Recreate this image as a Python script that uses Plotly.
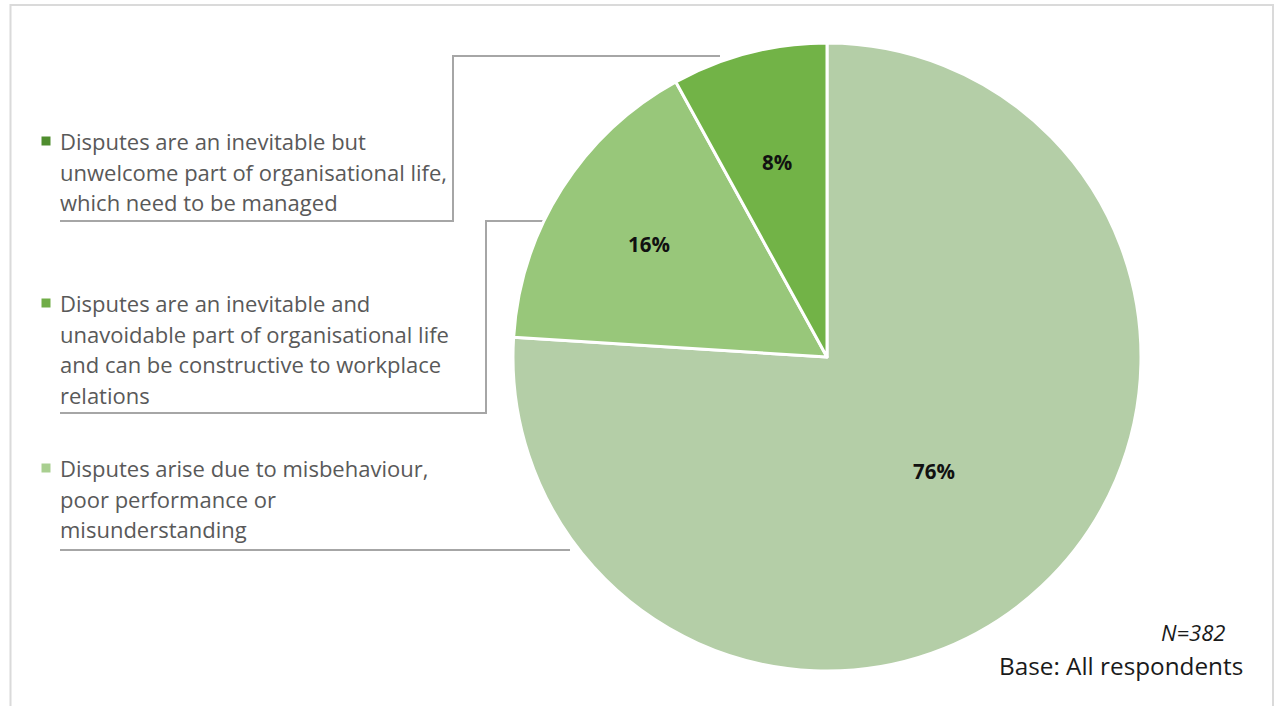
import math
import plotly.graph_objects as go

# Survey responses: views on workplace disputes (share of respondents, %)
categories = [
    "Disputes arise due to misbehaviour, poor performance or misunderstanding",
    "Disputes are an inevitable and unavoidable part of organisational life and can be constructive to workplace relations",
    "Disputes are an inevitable but unwelcome part of organisational life, which need to be managed",
]
values = [76, 16, 8]

# Wrapped legend text, listed top to bottom (reverse of slice order)
legend_lines = [
    ["Disputes are an inevitable but", "unwelcome part of organisational life,", "which need to be managed"],
    ["Disputes are an inevitable and", "unavoidable part of organisational life", "and can be constructive to workplace", "relations"],
    ["Disputes arise due to misbehaviour,", "poor performance or", "misunderstanding"],
]
sample_note = "N=382"
base_note = "Base: All respondents"

slice_colors = ["#b4cea7", "#98c77a", "#72b347"]
legend_colors = ["#4f8d2e", "#70ad47", "#a9cf90"]

FONT = "'Open Sans', 'Noto Sans', sans-serif"
W, H = 1275, 706
CX, CY, R = 827, 357, 314

fig = go.Figure()

# Pie, first slice starting at 12 o'clock, clockwise
fig.add_trace(go.Pie(
    labels=categories,
    values=values,
    sort=False,
    direction="clockwise",
    rotation=0,
    marker=dict(colors=slice_colors, line=dict(color="white", width=3)),
    textinfo="none",
    hoverinfo="label+percent",
    showlegend=False,
    domain=dict(x=[(CX - R) / W, (CX + R) / W], y=[1 - (CY + R) / H, 1 - (CY - R) / H]),
))

# Percentage labels placed along each slice's mid-angle
label_radius = [0.50, 0.67, 0.64]
total = sum(values)
cum = 0
annotations = []
for v, rf in zip(values, label_radius):
    mid = (cum + v / 2) / total * 2 * math.pi
    cum += v
    lx = CX + rf * R * math.sin(mid)
    ly = CY - rf * R * math.cos(mid)
    annotations.append(dict(
        x=lx, y=ly, xref="x", yref="y", text=f"<b>{v}%</b>", showarrow=False,
        font=dict(family=FONT, size=20.5, color="#111111"),
        xanchor="center", yanchor="middle",
    ))

# Legend entries with leader lines running to the pie
legend_top = [141, 303, 468]
line_step = 30.6
text_x = 58
for lines, y0, col in zip(legend_lines, legend_top, legend_colors):
    fig.add_trace(go.Scatter(
        x=[46], y=[y0], mode="markers",
        marker=dict(symbol="square", size=9, color=col, line=dict(width=0)),
        hoverinfo="skip", showlegend=False,
    ))
    for i, ln in enumerate(lines):
        annotations.append(dict(
            x=text_x, y=y0 + i * line_step, xref="x", yref="y", text=ln, showarrow=False,
            font=dict(family=FONT, size=22, color="#595959"),
            xanchor="left", yanchor="middle",
        ))

leaders = [
    ([60, 453, 453, 720], [221, 221, 56, 56]),
    ([60, 486, 486, 544], [413, 413, 221, 221]),
    ([60, 570], [550, 550]),
]
for lx, ly in leaders:
    fig.add_trace(go.Scatter(
        x=lx, y=ly, mode="lines", line=dict(color="#a6a6a6", width=2),
        hoverinfo="skip", showlegend=False,
    ))

annotations.append(dict(
    x=1227, y=632, xref="x", yref="y", text=f"<i>{sample_note}</i>", showarrow=False,
    font=dict(family=FONT, size=22, color="#1a1a1a"),
    xanchor="right", yanchor="middle",
))
annotations.append(dict(
    x=1245, y=665, xref="x", yref="y", text=base_note, showarrow=False,
    font=dict(family=FONT, size=24.3, color="#1a1a1a"),
    xanchor="right", yanchor="middle",
))

fig.update_layout(
    width=W, height=H,
    margin=dict(l=0, r=0, t=0, b=0),
    paper_bgcolor="white", plot_bgcolor="white",
    xaxis=dict(range=[0, W], visible=False, fixedrange=True),
    yaxis=dict(range=[H, 0], visible=False, fixedrange=True),
    annotations=annotations,
    shapes=[dict(
        type="rect", xref="x", yref="y", x0=10.5, x1=1273, y0=5, y1=H + 20,
        line=dict(color="#dadada", width=2), fillcolor="rgba(0,0,0,0)", layer="below",
    )],
)

fig.write_html("out.html")
